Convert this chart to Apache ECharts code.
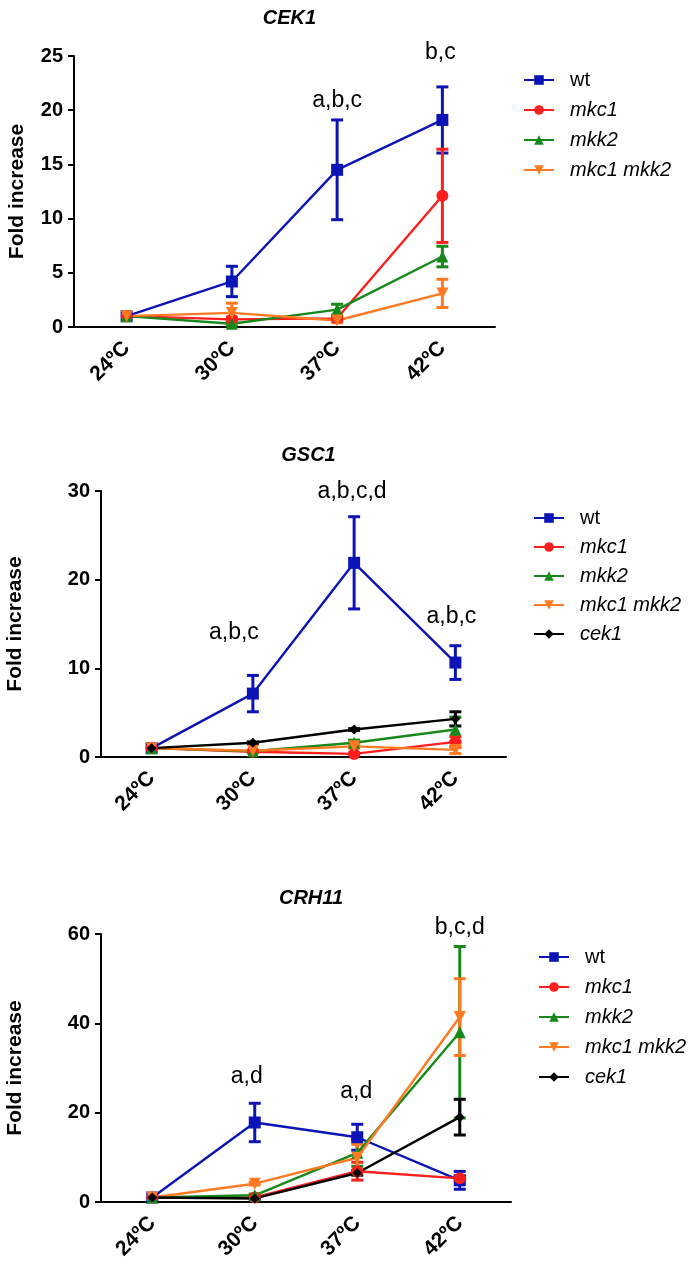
<!DOCTYPE html>
<html><head><meta charset="utf-8">
<script src="https://cdn.jsdelivr.net/npm/echarts@6/dist/echarts.min.js"></script>
<style>html,body{margin:0;padding:0;background:#fff}#c{width:696px;height:1268px}</style>
</head><body><div id="c"></div>
<script>
// ---- data ----
var categories = ['24ºC', '30ºC', '37ºC', '42ºC'];
var seriesNames = ['wt', 'mkc1', 'mkk2', 'mkc1 mkk2', 'cek1'];

// CEK1
var cek1_wt = [1.0, 4.2, 14.5, 19.1];
var cek1_wt_sd = [0, 1.4, 4.6, 3.05];
var cek1_mkc1 = [1.0, 0.7, 0.8, 12.1];
var cek1_mkc1_sd = [0, 0.2, 0.2, 4.3];
var cek1_mkk2 = [1.0, 0.3, 1.6, 6.5];
var cek1_mkk2_sd = [0, 0.2, 0.5, 0.95];
var cek1_dbl = [1.0, 1.3, 0.6, 3.1];
var cek1_dbl_sd = [0, 0.9, 0.2, 1.3];
var cek1_ticks = [0, 5, 10, 15, 20, 25];
var cek1_notes = [{cat: 2, y: 20.9, text: 'a,b,c'}, {cat: 3, y: 25.3, text: 'b,c'}];

// GSC1
var gsc1_wt = [1.0, 7.15, 21.9, 10.65];
var gsc1_wt_sd = [0, 2.05, 5.2, 1.9];
var gsc1_mkc1 = [1.0, 0.6, 0.35, 1.7];
var gsc1_mkc1_sd = [0, 0.1, 0.1, 0.6];
var gsc1_mkk2 = [1.0, 0.65, 1.6, 3.1];
var gsc1_mkk2_sd = [0, 0.1, 0.3, 1.4];
var gsc1_dbl = [1.0, 0.7, 1.2, 0.8];
var gsc1_dbl_sd = [0, 0.1, 0.2, 0.4];
var gsc1_cek1 = [1.0, 1.6, 3.1, 4.3];
var gsc1_cek1_sd = [0, 0.1, 0.1, 0.8];
var gsc1_ticks = [0, 10, 20, 30];
var gsc1_notes = [{cat: 1, y: 14.0, text: 'a,b,c'}, {cat: 2, y: 29.9, text: 'a,b,c,d'}, {cat: 3, y: 15.8, text: 'a,b,c'}];

// CRH11
var crh11_wt = [1.0, 17.8, 14.5, 4.85];
var crh11_wt_sd = [0, 4.3, 2.9, 2.0];
var crh11_mkc1 = [1.0, 1.0, 6.9, 5.3];
var crh11_mkc1_sd = [0, 0.3, 2.0, 0.5];
var crh11_mkk2 = [1.0, 1.5, 11.0, 38.0];
var crh11_mkk2_sd = [0, 0.3, 3.0, 19.2];
var crh11_dbl = [1.0, 4.1, 9.9, 41.4];
var crh11_dbl_sd = [0, 0.3, 3.0, 8.6];
var crh11_cek1 = [1.0, 0.8, 6.5, 19.0];
var crh11_cek1_sd = [0, 0.2, 0.5, 4.0];
var crh11_ticks = [0, 20, 40, 60];
var crh11_notes = [{cat: 1, y: 28.0, text: 'a,d'}, {cat: 2, y: 24.7, text: 'a,d'}, {cat: 3, y: 61.4, text: 'b,c,d'}];

// ---- styles ----
var colors = {'wt': '#0c14b6', 'mkc1': '#ff1e1e', 'mkk2': '#16891a', 'mkc1 mkk2': '#ff7a22', 'cek1': '#000000'};
var symbols = {'wt': 'rect', 'mkc1': 'circle', 'mkk2': 'triangle', 'mkc1 mkk2': 'triangle', 'cek1': 'diamond'};
var symbolRot = {'mkc1 mkk2': 180};
var symSize = {'wt': 12, 'mkc1': 12, 'mkk2': 12, 'mkc1 mkk2': 12, 'cek1': 10};
var FONT = 'Liberation Sans, Arial, sans-serif';

var panels = [
  {title: 'CEK1', grid: {left: 74, right: 201, top: 56, height: 271}, ticks: cek1_ticks, nameGap: 46,
   legend: {left: 523, top: 70, gap: 10}, notes: cek1_notes, noteDx: [0, -2],
   series: {'wt': [cek1_wt, cek1_wt_sd], 'mkc1': [cek1_mkc1, cek1_mkc1_sd], 'mkk2': [cek1_mkk2, cek1_mkk2_sd], 'mkc1 mkk2': [cek1_dbl, cek1_dbl_sd]},
   titleTop: 3},
  {title: 'GSC1', grid: {left: 101, right: 190, top: 491, height: 266}, ticks: gsc1_ticks, nameGap: 75,
   legend: {left: 533, top: 508, gap: 9}, notes: gsc1_notes, noteDx: [-19, -2, -4],
   series: {'wt': [gsc1_wt, gsc1_wt_sd], 'mkc1': [gsc1_mkc1, gsc1_mkc1_sd], 'mkk2': [gsc1_mkk2, gsc1_mkk2_sd], 'mkc1 mkk2': [gsc1_dbl, gsc1_dbl_sd], 'cek1': [gsc1_cek1, gsc1_cek1_sd]},
   titleTop: 440},
  {title: 'CRH11', grid: {left: 101, right: 185, top: 934, height: 268}, ticks: crh11_ticks, nameGap: 75,
   legend: {left: 538, top: 947, gap: 10}, notes: crh11_notes, noteDx: [-8, -1, 0],
   series: {'wt': [crh11_wt, crh11_wt_sd], 'mkc1': [crh11_mkc1, crh11_mkc1_sd], 'mkk2': [crh11_mkk2, crh11_mkk2_sd], 'mkc1 mkk2': [crh11_dbl, crh11_dbl_sd], 'cek1': [crh11_cek1, crh11_cek1_sd]},
   titleTop: 883}
];

function errRender(color) {
  return function (params, api) {
    var x = api.value(0), m = api.value(1), sd = api.value(2);
    if (!sd) return;
    var t = api.coord([x, m + sd]), b = api.coord([x, m - sd]);
    var hw = 6, st = {stroke: color, lineWidth: 3};
    return {type: 'group', children: [
      {type: 'line', shape: {x1: t[0], y1: t[1], x2: b[0], y2: b[1]}, style: st},
      {type: 'line', shape: {x1: t[0] - hw, y1: t[1], x2: t[0] + hw, y2: t[1]}, style: st},
      {type: 'line', shape: {x1: b[0] - hw, y1: b[1], x2: b[0] + hw, y2: b[1]}, style: st}
    ]};
  };
}

var option = {backgroundColor: '#fff', animation: false, title: [], grid: [], xAxis: [], yAxis: [], legend: [], series: []};

panels.forEach(function (p, k) {
  var gc = p.grid;
  option.grid.push({left: gc.left, right: gc.right, top: gc.top, height: gc.height, containLabel: false, outerBoundsMode: 'none'});
  option.title.push({text: p.title, left: gc.left + (696 - gc.left - gc.right) / 2, top: p.titleTop, textAlign: 'center',
    textStyle: {fontFamily: FONT, fontStyle: 'italic', fontWeight: 'bold', fontSize: 20, color: '#000'}});
  option.xAxis.push({type: 'category', gridIndex: k, data: categories, boundaryGap: true,
    axisLine: {lineStyle: {color: '#000', width: 2}},
    axisTick: {alignWithLabel: true, length: 6, lineStyle: {color: '#000', width: 2}},
    axisLabel: {rotate: 45, margin: 18, color: '#000', fontFamily: FONT, fontWeight: 'bold', fontSize: 21},
    splitLine: {show: false}});
  var tk = p.ticks;
  option.yAxis.push({type: 'value', gridIndex: k, min: tk[0], max: tk[tk.length - 1], interval: tk[1] - tk[0],
    name: 'Fold increase', nameLocation: 'middle', nameGap: p.nameGap, nameRotate: 90,
    nameTextStyle: {fontFamily: FONT, fontWeight: 'bold', fontSize: 21, color: '#000'},
    axisLine: {show: true, lineStyle: {color: '#000', width: 2}},
    axisTick: {show: true, length: 6, lineStyle: {color: '#000', width: 2}},
    axisLabel: {margin: 11, color: '#000', fontFamily: FONT, fontWeight: 'bold', fontSize: 20},
    splitLine: {show: false}});
  var names = Object.keys(p.series);
  option.legend.push({orient: 'vertical', left: p.legend.left, top: p.legend.top, data: names, padding: 0,
    itemWidth: 30, itemHeight: 12, itemGap: p.legend.gap, selectedMode: false,
    formatter: function (n) { return n === 'wt' ? '{n|' + n + '}' : '{i|' + n + '}'; },
    textStyle: {color: '#000', fontFamily: FONT, fontSize: 20,
      rich: {n: {fontFamily: FONT, fontSize: 20, color: '#000', lineHeight: 20, padding: [0, 0, 0, 11]},
             i: {fontFamily: FONT, fontSize: 20, fontStyle: 'italic', color: '#000', lineHeight: 20, padding: [0, 0, 0, 11]}}}});
  names.forEach(function (n) {
    var vals = p.series[n][0], sds = p.series[n][1], c = colors[n];
    option.series.push({type: 'line', name: n, xAxisIndex: k, yAxisIndex: k, data: vals,
      symbol: symbols[n], symbolSize: symSize[n], symbolRotate: symbolRot[n] || 0,
      lineStyle: {color: c, width: 2.4}, itemStyle: {color: c}, z: 3});
    option.series.push({type: 'custom', name: n + ' SD', xAxisIndex: k, yAxisIndex: k,
      data: vals.map(function (v, i) { return [i, v, sds[i]]; }),
      encode: {x: 0, y: 1}, renderItem: errRender(c), z: 3, silent: true});
  });
  option.series.push({type: 'scatter', name: 'notes' + k, xAxisIndex: k, yAxisIndex: k, clip: false, silent: true,
    symbolSize: 1, itemStyle: {color: '#fff', opacity: 0},
    data: p.notes.map(function (a, i) {
      return {value: [a.cat, a.y], label: {offset: [p.noteDx[i] || 0, 0]}, name: a.text};
    }),
    label: {show: true, position: 'inside', opacity: 1, textBorderWidth: 0, formatter: function (d) { return d.name; },
      fontFamily: FONT, fontSize: 23, color: '#000'}, z: 5});
});

var chart = echarts.init(document.getElementById('c'), null, {renderer: 'canvas'});
chart.setOption(option);
</script></body></html>
